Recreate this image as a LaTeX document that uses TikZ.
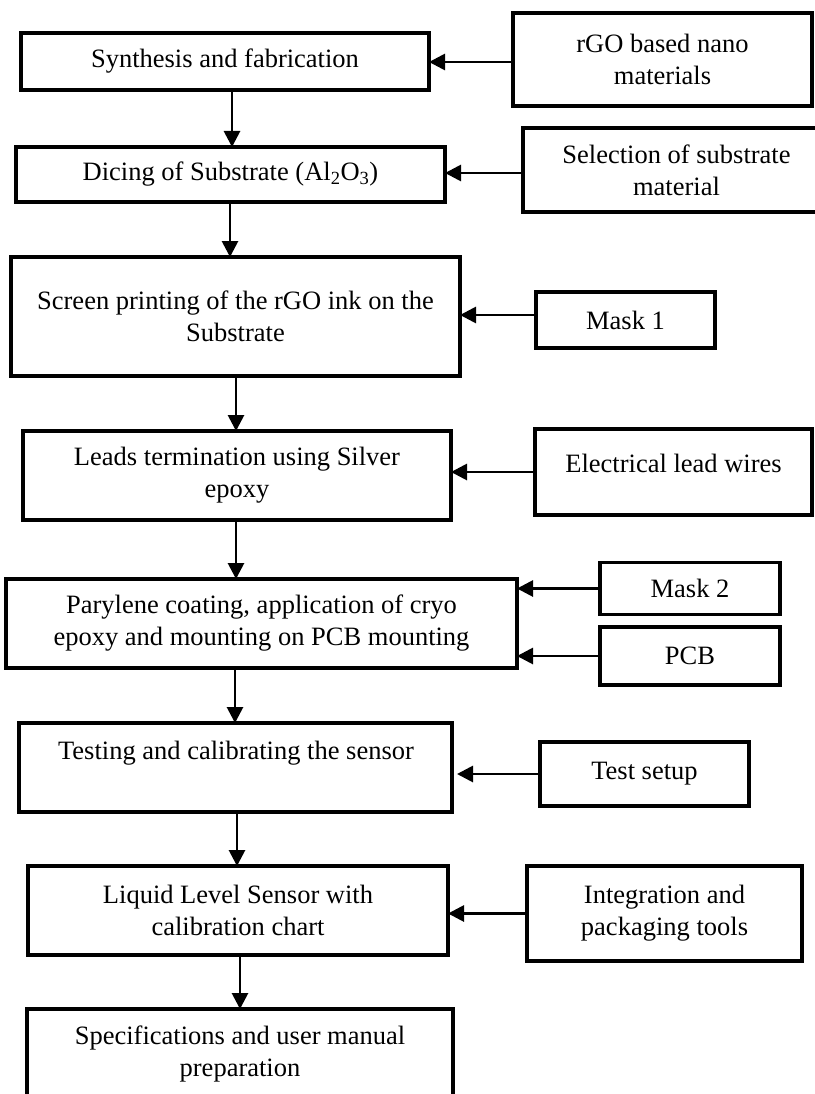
\documentclass[tikz,border=0pt]{standalone}
\usepackage{fontspec}
\setmainfont{Liberation Serif}
\usetikzlibrary{arrows.meta}
\tikzset{
  box/.style={draw=black, line width=3.3pt, inner sep=0pt, outer sep=0pt, align=center,
    font=\fontsize{26.5}{32}\selectfont},
  txt/.style={inner sep=0pt, outer sep=0pt, align=center, font=\fontsize{26.5}{32}\selectfont},
  arr/.style={line width=2.8pt, -{Triangle[length=16pt,width=16pt]}}
}
\begin{document}
\begin{tikzpicture}[x=1pt,y=-1pt]
\useasboundingbox (0,0) rectangle (814,1094);
% main column
\node[box, minimum width=408pt, minimum height=57pt] (syn) at (225,61.5) {Synthesis and fabrication};
\node[box, minimum width=429pt, minimum height=55pt] (dic) at (230.5,174.5) {Dicing of Substrate (Al\textsubscript{2}O\textsubscript{3})};
\node[box, minimum width=449pt, minimum height=119pt] (scr) at (235.5,316.5) {Screen printing of the rGO ink on the\\Substrate};
\node[box, minimum width=428pt, minimum height=89pt] (lead) at (237,475.5) {Leads termination using Silver\\epoxy};
\node[box, minimum width=511pt, minimum height=89pt] (par) at (261.5,623.5) {Parylene coating, application of cryo\\epoxy and mounting on PCB mounting};
\node[box, minimum width=433pt, minimum height=89pt] (test) at (235.5,767.5) {};
\node[txt] (testt) at (236,753) {Testing and calibrating the sensor};
\node[box, minimum width=420pt, minimum height=89pt] (liq) at (238,910.5) {Liquid Level Sensor with\\calibration chart};
\node[box, minimum width=426pt, minimum height=120pt] (spec) at (240,1069) {};
\node[txt] (spect) at (240,1054) {Specifications and user manual\\preparation};
% side column
\node[box, minimum width=299pt, minimum height=93pt] (rgo) at (662.5,59.5) {rGO based nano\\materials};
\node[box, minimum width=307pt, minimum height=84pt] (sel) at (676.5,170) {Selection of substrate\\material};
\node[box, minimum width=179pt, minimum height=56pt] (m1) at (625.5,320) {Mask 1};
\node[box, minimum width=277pt, minimum height=86pt] (elec) at (673.5,472) {};
\node[txt] (elect) at (673.5,463) {Electrical lead wires};
\node[box, minimum width=180pt, minimum height=52pt] (m2) at (690,588.5) {Mask 2};
\node[box, minimum width=180pt, minimum height=58pt] (pcb) at (690,656) {PCB};
\node[box, minimum width=209pt, minimum height=64pt] (ts) at (644.5,774) {Test setup};
\node[box, minimum width=275pt, minimum height=95pt] (int) at (664.5,913.5) {Integration and\\packaging tools};
% vertical arrow x positions
\coordinate (v1) at (232,0);
\coordinate (v2) at (230,0);
\coordinate (v3) at (236,0);
\coordinate (v4) at (236,0);
\coordinate (v5) at (235,0);
\coordinate (v6) at (237,0);
\coordinate (v7) at (240,0);
\draw[arr] (syn.south -| v1) -- (dic.north -| v1);
\draw[arr] (dic.south -| v2) -- (scr.north -| v2);
\draw[arr] (scr.south -| v3) -- (lead.north -| v3);
\draw[arr] (lead.south -| v4) -- (par.north -| v4);
\draw[arr] (par.south -| v5) -- (test.north -| v5);
\draw[arr] (test.south -| v6) -- (liq.north -| v6);
\draw[arr] (liq.south -| v7) -- (spec.north -| v7);
% horizontal arrows
\coordinate (h1) at (0,62);
\coordinate (h2) at (0,173);
\coordinate (h3) at (0,315);
\draw[arr] (rgo.west |- h1) -- (syn.east |- h1);
\draw[arr] (sel.west |- h2) -- (dic.east |- h2);
\draw[arr] (m1.west |- h3) -- (scr.east |- h3);
\draw[arr] (elec.west) -- (elec.west -| lead.east);
\draw[arr] (m2.west) -- (m2.west -| par.east);
\draw[arr] (pcb.west) -- (pcb.west -| par.east);
\draw[arr, shorten >=5pt] (ts.west) -- (ts.west -| test.east);
\draw[arr] (int.west) -- (int.west -| liq.east);
\end{tikzpicture}
\end{document}
